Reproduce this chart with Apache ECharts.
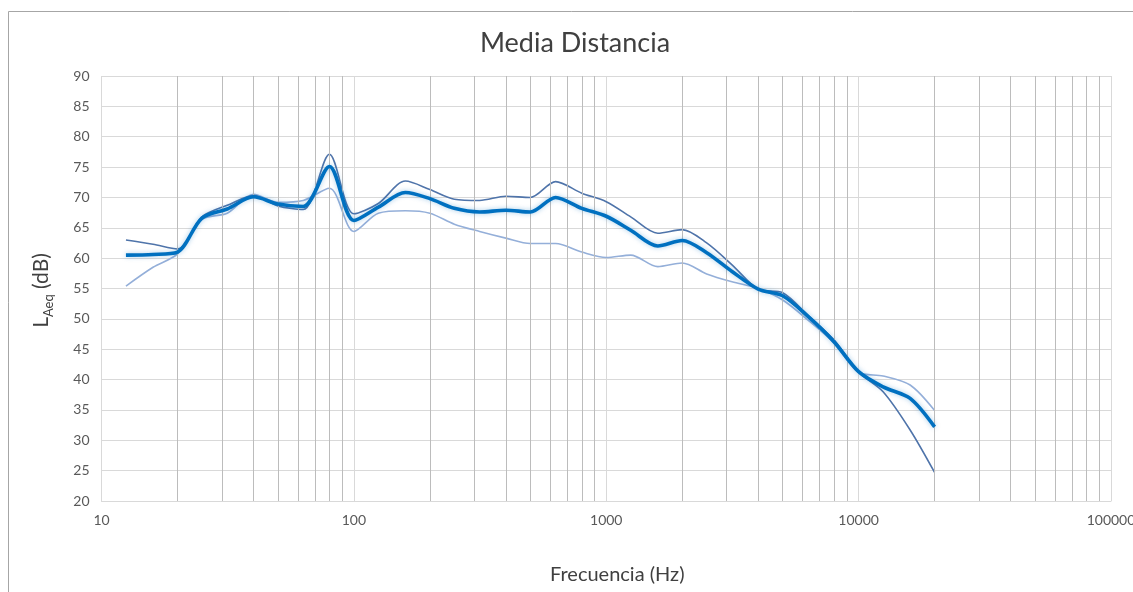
<!DOCTYPE html>
<html>
<head>
<meta charset="utf-8">
<script src="https://cdn.jsdelivr.net/npm/echarts@6/dist/echarts.min.js"></script>
<style>
html,body{margin:0;padding:0;background:#fff;}
#chart{width:1133px;height:592px;}
</style>
</head>
<body>
<div id="chart"></div>
<script>
// Third-octave centre frequencies (Hz)
var frequencies = [12.5,16,20,25,31.5,40,50,63,80,100,125,160,200,250,315,400,500,630,800,1000,1250,1600,2000,2500,3150,4000,5000,6300,8000,10000,12500,16000,20000];
// Mean (thick line)
var meanLevel = [60.5,60.6,61.0,66.6,68.1,70.1,68.9,68.5,75.1,66.2,68.4,70.8,69.8,68.2,67.6,67.9,67.6,70.0,68.2,66.9,64.6,62.0,62.9,60.9,57.8,54.9,53.8,50.4,46.2,41.3,38.8,36.9,32.2];
// Dark thin line
var darkLevel = [63.0,62.3,61.5,66.8,68.7,70.3,68.6,68.0,77.1,67.3,69.0,72.7,71.3,69.7,69.5,70.2,70.0,72.6,70.7,69.3,66.8,64.1,64.7,62.5,58.9,54.9,54.3,50.6,46.5,41.2,38.0,31.7,24.7];
// Light thin line
var lightLevel = [55.4,58.5,60.7,66.4,67.4,70.5,69.2,69.5,71.5,64.4,67.4,67.8,67.4,65.6,64.4,63.3,62.4,62.4,61.0,60.1,60.5,58.6,59.2,57.4,56.1,55.0,53.1,49.8,46.0,41.2,40.6,39.1,34.9];
// Minor vertical gridlines of the log axis
var minorGridFreqs = [20,30,40,50,60,70,80,90,200,300,400,500,600,700,800,900,2000,3000,4000,5000,6000,7000,8000,9000,20000,30000,40000,50000,60000,70000,80000,90000];

function pairs(vals){ return frequencies.map(function(f,i){ return [f, vals[i]]; }); }

var FONT = 'Lato, "Open Sans", sans-serif';
var chart = echarts.init(document.getElementById('chart'), null, {renderer:'canvas'});
chart.setOption({
  animation:false,
  backgroundColor:'#ffffff',
  graphic:[{
    type:'rect', shape:{x:8.5, y:11.5, width:1200, height:700},
    style:{fill:'none', stroke:'#a6a6a6', lineWidth:1}, silent:true, z:-10
  },{
    type:'text', x:575, y:43,
    style:{text:'Media Distancia', fontFamily:FONT, fontSize:27, fill:'#404040', textAlign:'center', textVerticalAlign:'middle'},
    silent:true
  }],
  grid:{left:101.5, right:22, top:76, bottom:91, containLabel:false, outerBoundsMode:'none'},
  xAxis:{
    type:'log', logBase:10, min:10, max:100000,
    name:'Frecuencia (Hz)', nameLocation:'middle', nameGap:64,
    nameTextStyle:{fontFamily:FONT, fontSize:20, color:'#404040', padding:[0,0,0,22]},
    axisLine:{show:true, lineStyle:{color:'#d9d9d9'}},
    axisTick:{show:false},
    axisLabel:{fontFamily:FONT, fontSize:14, color:'#595959', margin:12, showMaxLabel:true, showMinLabel:true,
      formatter:function(v){ return String(Math.round(v)); }},
    splitLine:{show:true, lineStyle:{color:'#d9d9d9', width:1}},
    minorTick:{show:false}, minorSplitLine:{show:false}
  },
  yAxis:{
    type:'value', min:20, max:90, interval:5,
    name:'{a|L}{b|Aeq}{a| (dB)}', nameLocation:'middle', nameGap:50, nameRotate:90,
    nameTextStyle:{
      padding:[0,0,0,-4],
      rich:{
        a:{fontFamily:FONT, fontSize:21, color:'#404040', lineHeight:24, verticalAlign:'bottom'},
        b:{fontFamily:FONT, fontSize:13, color:'#404040', lineHeight:14, verticalAlign:'bottom', padding:[0,0,-4,0]}
      }
    },
    axisLine:{show:false}, axisTick:{show:false},
    axisLabel:{fontFamily:FONT, fontSize:14, color:'#595959', margin:12},
    splitLine:{show:true, lineStyle:{color:'#d9d9d9', width:1}}
  },
  series:[
    {
      type:'line', data:[], silent:true, z:1,
      markLine:{
        silent:true, symbol:['none','none'], label:{show:false},
        lineStyle:{color:'#bcbcbc', width:1, type:'solid'},
        animation:false,
        data: minorGridFreqs.map(function(f){ return {xAxis:f}; })
      }
    },
    {
      name:'light', type:'line', data:pairs(lightLevel), smooth:0.3, showSymbol:false, z:3,
      lineStyle:{color:'#94afd9', width:1.6}
    },
    {
      name:'dark', type:'line', data:pairs(darkLevel), smooth:0.3, showSymbol:false, z:4,
      lineStyle:{color:'#4f74aa', width:1.6}
    },
    {
      name:'mean', type:'line', data:pairs(meanLevel), smooth:0.3, showSymbol:false, z:5,
      lineStyle:{color:'#0070c0', width:3.6, shadowColor:'rgba(0,112,192,0.35)', shadowBlur:5}
    }
  ]
});
</script>
</body>
</html>
